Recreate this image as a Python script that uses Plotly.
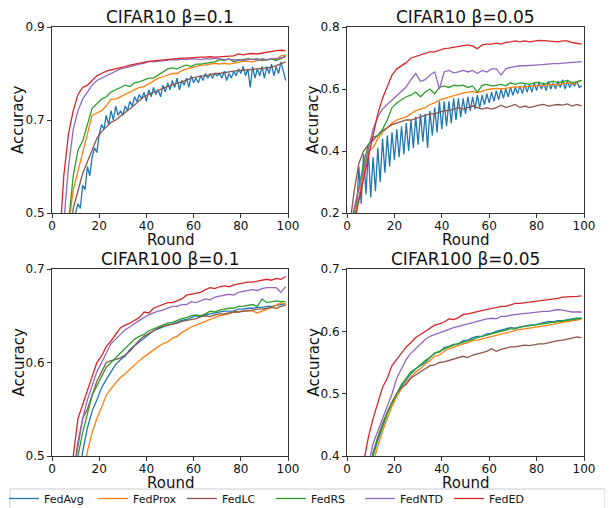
import plotly.graph_objects as go

# ---------------- data ----------------
ROUNDS_ODD = list(range(1, 100, 2))     # rounds 1,3,...,99
ROUNDS_ALL = list(range(0, 100))        # rounds 0..99

METHODS = ["FedAvg", "FedProx", "FedLC", "FedRS", "FedNTD", "FedED"]
COLORS = ["#1f77b4", "#ff7f0e", "#8c564b", "#2ca02c", "#9467bd", "#d62728"]

TITLES = ["CIFAR10 β=0.1", "CIFAR10 β=0.05", "CIFAR100 β=0.1", "CIFAR100 β=0.05"]
Y_TICKS = [[0.5, 0.7, 0.9], [0.2, 0.4, 0.6, 0.8], [0.5, 0.6, 0.7], [0.4, 0.5, 0.6, 0.7]]
X_TICKS = [0, 20, 40, 60, 80, 100]

# ---- CIFAR10 beta=0.1 ----
c10a_fedavg = [0.10, 0.15, 0.20, 0.25, 0.30, 0.34, 0.38, 0.42, 0.45, 0.48,
               0.50, 0.52, 0.51, 0.56, 0.55, 0.60, 0.58, 0.62, 0.64, 0.63,
               0.67, 0.69, 0.68, 0.71, 0.69, 0.72, 0.70, 0.73, 0.71, 0.72,
               0.71, 0.73, 0.72, 0.74, 0.73, 0.75, 0.74, 0.755, 0.745, 0.76,
               0.74, 0.765, 0.75, 0.77, 0.755, 0.765, 0.75, 0.775, 0.76, 0.78,
               0.765, 0.785, 0.77, 0.79, 0.765, 0.785, 0.775, 0.79, 0.77, 0.795,
               0.78, 0.79, 0.78, 0.795, 0.785, 0.80, 0.79, 0.80, 0.79, 0.80,
               0.795, 0.80, 0.79, 0.805, 0.785, 0.80, 0.79, 0.805, 0.795, 0.81,
               0.80, 0.815, 0.795, 0.81, 0.77, 0.815, 0.79, 0.81, 0.795, 0.815,
               0.79, 0.815, 0.80, 0.82, 0.795, 0.815, 0.80, 0.825, 0.805, 0.785]
c10a_fedprox = [0.20, 0.28, 0.38, 0.47, 0.55, 0.59, 0.63, 0.67, 0.71, 0.715,
                0.72, 0.73, 0.745, 0.745, 0.75, 0.755, 0.76, 0.765, 0.77, 0.772,
                0.778, 0.785, 0.79, 0.793, 0.797, 0.80, 0.80, 0.806, 0.81, 0.812,
                0.815, 0.818, 0.818, 0.82, 0.822, 0.82, 0.822, 0.82, 0.822, 0.825,
                0.826, 0.826, 0.825, 0.828, 0.83, 0.829, 0.832, 0.83, 0.838, 0.84]
c10a_fedlc = [0.15, 0.25, 0.33, 0.42, 0.51, 0.545, 0.585, 0.61, 0.635, 0.66,
              0.675, 0.685, 0.695, 0.70, 0.708, 0.715, 0.725, 0.732, 0.742, 0.75,
              0.755, 0.76, 0.764, 0.768, 0.772, 0.776, 0.779, 0.782, 0.786, 0.79,
              0.792, 0.795, 0.795, 0.798, 0.80, 0.80, 0.802, 0.803, 0.805, 0.806,
              0.807, 0.808, 0.809, 0.81, 0.81, 0.811, 0.813, 0.817, 0.821, 0.825]
c10a_fedrs = [0.20, 0.30, 0.40, 0.48, 0.58, 0.635, 0.655, 0.69, 0.725, 0.735,
              0.745, 0.75, 0.76, 0.765, 0.77, 0.775, 0.772, 0.78, 0.782, 0.786,
              0.79, 0.79, 0.797, 0.803, 0.81, 0.812, 0.81, 0.815, 0.818, 0.815,
              0.82, 0.82, 0.822, 0.823, 0.825, 0.83, 0.828, 0.832, 0.825, 0.828,
              0.83, 0.832, 0.83, 0.832, 0.828, 0.83, 0.831, 0.828, 0.832, 0.838]
c10a_fedntd = [0.25, 0.35, 0.48, 0.60, 0.68, 0.72, 0.745, 0.76, 0.775, 0.785,
               0.79, 0.795, 0.80, 0.805, 0.81, 0.812, 0.815, 0.818, 0.82, 0.822,
               0.826, 0.825, 0.826, 0.828, 0.829, 0.83, 0.829, 0.831, 0.83, 0.832,
               0.831, 0.83, 0.832, 0.831, 0.833, 0.832, 0.83, 0.831, 0.829, 0.83,
               0.828, 0.83, 0.831, 0.829, 0.832, 0.83, 0.831, 0.832, 0.834, 0.835]
c10a_feded = [0.30, 0.42, 0.58, 0.67, 0.72, 0.755, 0.77, 0.775, 0.785, 0.795,
              0.80, 0.805, 0.808, 0.81, 0.812, 0.815, 0.818, 0.82, 0.822, 0.825,
              0.826, 0.827, 0.828, 0.83, 0.83, 0.831, 0.832, 0.833, 0.833, 0.834,
              0.834, 0.835, 0.835, 0.836, 0.835, 0.836, 0.837, 0.838, 0.838, 0.842,
              0.84, 0.842, 0.843, 0.842, 0.844, 0.846, 0.847, 0.849, 0.85, 0.849]

# ---- CIFAR10 beta=0.05 ----
c10b_fedavg = [0.10, 0.12, 0.15, 0.18, 0.20, 0.35, 0.23, 0.39, 0.26, 0.40,
               0.25, 0.38, 0.27, 0.41, 0.30, 0.44, 0.33, 0.45, 0.35, 0.46,
               0.37, 0.47, 0.38, 0.48, 0.39, 0.49, 0.40, 0.50, 0.41, 0.51,
               0.42, 0.52, 0.43, 0.52, 0.41, 0.53, 0.45, 0.54, 0.46, 0.56,
               0.47, 0.56, 0.48, 0.56, 0.49, 0.57, 0.50, 0.57, 0.51, 0.57,
               0.52, 0.575, 0.53, 0.575, 0.535, 0.58, 0.54, 0.58, 0.55, 0.585,
               0.555, 0.59, 0.56, 0.595, 0.565, 0.60, 0.57, 0.60, 0.575, 0.605,
               0.58, 0.605, 0.585, 0.61, 0.585, 0.615, 0.59, 0.615, 0.59, 0.62,
               0.595, 0.62, 0.60, 0.62, 0.595, 0.625, 0.60, 0.62, 0.60, 0.625,
               0.605, 0.63, 0.60, 0.625, 0.605, 0.62, 0.61, 0.625, 0.605, 0.61]
c10b_fedprox = [0.12, 0.18, 0.25, 0.32, 0.40, 0.41, 0.44, 0.46, 0.475, 0.49,
                0.50, 0.505, 0.51, 0.52, 0.53, 0.535, 0.54, 0.55, 0.555, 0.565,
                0.57, 0.575, 0.58, 0.583, 0.587, 0.59, 0.592, 0.588, 0.594, 0.598,
                0.60, 0.602, 0.60, 0.603, 0.605, 0.607, 0.606, 0.608, 0.61, 0.61,
                0.612, 0.61, 0.614, 0.615, 0.612, 0.617, 0.62, 0.617, 0.622, 0.628]
c10b_fedlc = [0.15, 0.27, 0.36, 0.40, 0.42, 0.435, 0.45, 0.465, 0.475, 0.485,
              0.49, 0.495, 0.50, 0.50, 0.505, 0.51, 0.515, 0.52, 0.52, 0.525,
              0.53, 0.53, 0.535, 0.54, 0.535, 0.54, 0.545, 0.54, 0.535, 0.54,
              0.535, 0.54, 0.548, 0.54, 0.545, 0.55, 0.54, 0.545, 0.54, 0.545,
              0.548, 0.55, 0.545, 0.548, 0.55, 0.548, 0.552, 0.545, 0.55, 0.545]
c10b_fedrs = [0.12, 0.20, 0.28, 0.36, 0.42, 0.445, 0.45, 0.47, 0.50, 0.54,
              0.555, 0.565, 0.575, 0.58, 0.59, 0.575, 0.59, 0.60, 0.585, 0.605,
              0.61, 0.605, 0.612, 0.61, 0.612, 0.605, 0.61, 0.59, 0.612, 0.615,
              0.61, 0.612, 0.615, 0.61, 0.62, 0.615, 0.62, 0.618, 0.615, 0.62,
              0.622, 0.615, 0.62, 0.625, 0.62, 0.625, 0.628, 0.62, 0.625, 0.628]
c10b_fedntd = [0.15, 0.22, 0.28, 0.34, 0.41, 0.47, 0.51, 0.535, 0.55, 0.565,
               0.58, 0.595, 0.607, 0.63, 0.65, 0.625, 0.63, 0.645, 0.655, 0.60,
               0.655, 0.66, 0.652, 0.655, 0.66, 0.655, 0.66, 0.65, 0.66, 0.655,
               0.665, 0.665, 0.645, 0.665, 0.67, 0.672, 0.675, 0.675, 0.675, 0.677,
               0.678, 0.68, 0.68, 0.682, 0.682, 0.683, 0.685, 0.685, 0.688, 0.688]
c10b_feded = [0.10, 0.17, 0.24, 0.31, 0.38, 0.46, 0.52, 0.57, 0.61, 0.645,
              0.665, 0.675, 0.685, 0.70, 0.705, 0.71, 0.715, 0.72, 0.72, 0.725,
              0.73, 0.732, 0.735, 0.738, 0.74, 0.742, 0.738, 0.73, 0.742, 0.745,
              0.745, 0.748, 0.745, 0.75, 0.752, 0.755, 0.752, 0.755, 0.752, 0.755,
              0.757, 0.756, 0.755, 0.753, 0.752, 0.755, 0.755, 0.75, 0.748, 0.745]

# ---- CIFAR100 beta=0.1 ----
c100a_fedavg = [0.20, 0.27, 0.33, 0.38, 0.42, 0.46, 0.505, 0.53, 0.548, 0.56,
                0.573, 0.582, 0.59, 0.598, 0.603, 0.607, 0.614, 0.618, 0.622, 0.627,
                0.631, 0.634, 0.636, 0.638, 0.64, 0.641, 0.643, 0.645, 0.646, 0.648,
                0.65, 0.649, 0.651, 0.652, 0.653, 0.654, 0.655, 0.655, 0.655, 0.657,
                0.657, 0.658, 0.658, 0.659, 0.659, 0.66, 0.66, 0.661, 0.662, 0.663]
c100a_fedprox = [0.18, 0.24, 0.30, 0.35, 0.39, 0.43, 0.47, 0.505, 0.525, 0.54,
                 0.552, 0.565, 0.572, 0.578, 0.584, 0.588, 0.593, 0.598, 0.602, 0.606,
                 0.61, 0.613, 0.617, 0.62, 0.622, 0.626, 0.628, 0.632, 0.635, 0.638,
                 0.64, 0.642, 0.644, 0.646, 0.648, 0.65, 0.651, 0.652, 0.654, 0.654,
                 0.655, 0.656, 0.655, 0.653, 0.655, 0.657, 0.659, 0.661, 0.664, 0.662]
c100a_fedlc = [0.25, 0.32, 0.38, 0.43, 0.48, 0.515, 0.54, 0.55, 0.565, 0.58,
               0.59, 0.60, 0.602, 0.603, 0.605, 0.608, 0.612, 0.618, 0.624, 0.628,
               0.631, 0.634, 0.637, 0.639, 0.64, 0.641, 0.642, 0.644, 0.645, 0.646,
               0.647, 0.649, 0.65, 0.649, 0.651, 0.652, 0.652, 0.653, 0.654, 0.654,
               0.655, 0.655, 0.656, 0.657, 0.657, 0.658, 0.659, 0.658, 0.66, 0.661]
c100a_fedrs = [0.22, 0.30, 0.36, 0.41, 0.45, 0.50, 0.525, 0.545, 0.565, 0.575,
               0.585, 0.595, 0.60, 0.605, 0.61, 0.615, 0.62, 0.625, 0.628, 0.63,
               0.634, 0.636, 0.638, 0.64, 0.642, 0.643, 0.645, 0.647, 0.648, 0.65,
               0.651, 0.65, 0.652, 0.655, 0.654, 0.656, 0.657, 0.658, 0.658, 0.66,
               0.66, 0.661, 0.662, 0.66, 0.668, 0.664, 0.665, 0.666, 0.665, 0.665]
c100a_fedntd = [0.25, 0.33, 0.39, 0.44, 0.48, 0.51, 0.54, 0.56, 0.575, 0.59,
                0.60, 0.61, 0.62, 0.625, 0.63, 0.635, 0.638, 0.642, 0.645, 0.648,
                0.651, 0.653, 0.655, 0.656, 0.658, 0.66, 0.66, 0.662, 0.662, 0.665,
                0.664, 0.666, 0.668, 0.667, 0.67, 0.671, 0.672, 0.673, 0.672, 0.675,
                0.676, 0.677, 0.678, 0.677, 0.679, 0.68, 0.68, 0.68, 0.675, 0.681]
c100a_feded = [0.30, 0.38, 0.43, 0.47, 0.50, 0.54, 0.555, 0.57, 0.585, 0.60,
               0.607, 0.617, 0.623, 0.63, 0.637, 0.64, 0.642, 0.645, 0.648, 0.654,
               0.653, 0.658, 0.66, 0.662, 0.664, 0.664, 0.666, 0.668, 0.672, 0.673,
               0.674, 0.675, 0.678, 0.68, 0.679, 0.681, 0.682, 0.681, 0.683, 0.684,
               0.685, 0.686, 0.686, 0.687, 0.688, 0.689, 0.688, 0.69, 0.689, 0.692]

# ---- CIFAR100 beta=0.05 ----
c100b_fedavg = [0.17, 0.23, 0.28, 0.32, 0.36, 0.40, 0.425, 0.448, 0.468, 0.485,
                0.50, 0.512, 0.522, 0.532, 0.54, 0.545, 0.55, 0.558, 0.565, 0.567,
                0.574, 0.576, 0.579, 0.58, 0.585, 0.586, 0.59, 0.592, 0.592, 0.596,
                0.597, 0.60, 0.602, 0.603, 0.606, 0.605, 0.607, 0.609, 0.61, 0.61,
                0.612, 0.615, 0.616, 0.615, 0.617, 0.617, 0.619, 0.62, 0.621, 0.621]
c100b_fedprox = [0.16, 0.22, 0.27, 0.31, 0.35, 0.39, 0.415, 0.44, 0.46, 0.48,
                 0.495, 0.508, 0.518, 0.527, 0.535, 0.54, 0.548, 0.553, 0.56, 0.562,
                 0.568, 0.572, 0.575, 0.578, 0.58, 0.582, 0.585, 0.586, 0.588, 0.59,
                 0.592, 0.594, 0.596, 0.598, 0.60, 0.601, 0.603, 0.604, 0.605, 0.606,
                 0.607, 0.608, 0.61, 0.611, 0.613, 0.614, 0.616, 0.617, 0.618, 0.62]
c100b_fedlc = [0.18, 0.24, 0.29, 0.33, 0.37, 0.405, 0.43, 0.452, 0.47, 0.487,
               0.50, 0.51, 0.515, 0.525, 0.53, 0.535, 0.54, 0.545, 0.546, 0.55,
               0.551, 0.553, 0.556, 0.557, 0.56, 0.558, 0.562, 0.564, 0.566, 0.568,
               0.572, 0.568, 0.571, 0.573, 0.575, 0.575, 0.576, 0.578, 0.577, 0.579,
               0.58, 0.58, 0.582, 0.583, 0.585, 0.586, 0.587, 0.589, 0.591, 0.59]
c100b_fedrs = [0.18, 0.24, 0.29, 0.33, 0.37, 0.405, 0.43, 0.45, 0.47, 0.485,
               0.50, 0.515, 0.525, 0.535, 0.54, 0.547, 0.553, 0.558, 0.565, 0.568,
               0.572, 0.575, 0.578, 0.58, 0.583, 0.585, 0.587, 0.59, 0.592, 0.594,
               0.596, 0.598, 0.60, 0.602, 0.604, 0.604, 0.607, 0.608, 0.609, 0.61,
               0.612, 0.613, 0.614, 0.615, 0.616, 0.617, 0.618, 0.619, 0.62, 0.621]
c100b_fedntd = [0.20, 0.26, 0.31, 0.35, 0.385, 0.42, 0.44, 0.46, 0.48, 0.50,
                0.525, 0.54, 0.555, 0.565, 0.572, 0.58, 0.587, 0.592, 0.595, 0.598,
                0.60, 0.603, 0.606, 0.608, 0.61, 0.612, 0.614, 0.617, 0.618, 0.62,
                0.621, 0.62, 0.624, 0.624, 0.626, 0.627, 0.628, 0.628, 0.629, 0.63,
                0.631, 0.632, 0.632, 0.634, 0.635, 0.634, 0.632, 0.631, 0.631, 0.631]
c100b_feded = [0.25, 0.30, 0.35, 0.39, 0.43, 0.46, 0.485, 0.51, 0.525, 0.545,
               0.555, 0.565, 0.575, 0.582, 0.59, 0.595, 0.60, 0.606, 0.61, 0.612,
               0.615, 0.62, 0.619, 0.622, 0.627, 0.628, 0.63, 0.632, 0.633, 0.636,
               0.637, 0.638, 0.64, 0.64, 0.643, 0.645, 0.645, 0.646, 0.647, 0.648,
               0.649, 0.65, 0.65, 0.652, 0.653, 0.655, 0.655, 0.656, 0.656, 0.657]

PANELS = [
    [(ROUNDS_ALL, c10a_fedavg), (ROUNDS_ODD, c10a_fedprox), (ROUNDS_ODD, c10a_fedlc),
     (ROUNDS_ODD, c10a_fedrs), (ROUNDS_ODD, c10a_fedntd), (ROUNDS_ODD, c10a_feded)],
    [(ROUNDS_ALL, c10b_fedavg), (ROUNDS_ODD, c10b_fedprox), (ROUNDS_ODD, c10b_fedlc),
     (ROUNDS_ODD, c10b_fedrs), (ROUNDS_ODD, c10b_fedntd), (ROUNDS_ODD, c10b_feded)],
    [(ROUNDS_ODD, c100a_fedavg), (ROUNDS_ODD, c100a_fedprox), (ROUNDS_ODD, c100a_fedlc),
     (ROUNDS_ODD, c100a_fedrs), (ROUNDS_ODD, c100a_fedntd), (ROUNDS_ODD, c100a_feded)],
    [(ROUNDS_ODD, c100b_fedavg), (ROUNDS_ODD, c100b_fedprox), (ROUNDS_ODD, c100b_fedlc),
     (ROUNDS_ODD, c100b_fedrs), (ROUNDS_ODD, c100b_fedntd), (ROUNDS_ODD, c100b_feded)],
]

# ---------------- layout ----------------
W, H = 613, 508
OFF = 8   # the page shows the figure offset by the default body margin
FONT = "DejaVu Sans"
# plot-area boxes in page pixels: (left, right, top, bottom)
BOXES = [(52, 288, 27, 213), (347, 584, 27, 213), (52, 288, 269, 456), (347, 584, 269, 456)]


def px(v):
    return (v - OFF) / W


def py(v):
    return 1 - (v - OFF) / H


fig = go.Figure()
annotations = []
layout = {}
for i, (panel, box) in enumerate(zip(PANELS, BOXES)):
    n = "" if i == 0 else str(i + 1)
    xa, ya = "x" + n, "y" + n
    l, r, t, b = box
    yt = Y_TICKS[i]
    for j, (xs, ys) in enumerate(panel):
        fig.add_trace(go.Scatter(
            x=xs, y=ys, mode="lines", name=METHODS[j],
            line=dict(color=COLORS[j], width=1.3),
            showlegend=(i == 0), legendgroup=METHODS[j],
            xaxis=xa, yaxis=ya))
    common = dict(showline=True, mirror=True, linecolor="#333333", linewidth=1,
                  ticks="outside", ticklen=4, tickcolor="#333333", showgrid=False,
                  zeroline=False, tickfont=dict(family=FONT, size=12, color="#111"))
    layout["xaxis" + n] = dict(domain=[px(l), px(r)], range=[0, 100], tickvals=X_TICKS,
                               anchor=ya, ticklabelstandoff=-2, **common)
    layout["yaxis" + n] = dict(domain=[py(b), py(t)], range=[yt[0], yt[-1]],
                               tickvals=yt, ticktext=[f"{v:g}" for v in yt],
                               anchor=xa, **common)
    cx = (l + r) / 2
    annotations.append(dict(text=TITLES[i], x=px(cx), y=py(t - 10), xref="paper",
                            yref="paper", showarrow=False, xanchor="center",
                            yanchor="middle", font=dict(family=FONT, size=17, color="#111")))
    annotations.append(dict(text="Round", x=px(cx), y=py(b + 27), xref="paper",
                            yref="paper", showarrow=False, xanchor="center",
                            yanchor="middle", font=dict(family=FONT, size=15, color="#111")))
    annotations.append(dict(text="Accuracy", x=px(l - 34), y=py((t + b) / 2),
                            xref="paper", yref="paper", showarrow=False, textangle=-90,
                            xanchor="center", yanchor="middle",
                            font=dict(family=FONT, size=15, color="#111")))

fig.update_layout(
    width=W, height=H, margin=dict(l=0, r=0, t=0, b=0, autoexpand=False),
    paper_bgcolor="white", plot_bgcolor="white",
    annotations=annotations,
    shapes=[dict(type="rect", xref="paper", yref="paper",
                 x0=px(10), x1=px(605), y0=py(520), y1=py(489),
                 line=dict(color="#cccccc", width=1), fillcolor="white", layer="below")],
    legend=dict(orientation="h", x=px(271), xanchor="center", y=py(484), yanchor="top",
                borderwidth=0, bgcolor="rgba(0,0,0,0)",
                entrywidth=44, entrywidthmode="pixels", itemwidth=30,
                font=dict(family=FONT, size=11, color="#111"), tracegroupgap=0),
    **layout,
)

fig.write_html("out.html")
